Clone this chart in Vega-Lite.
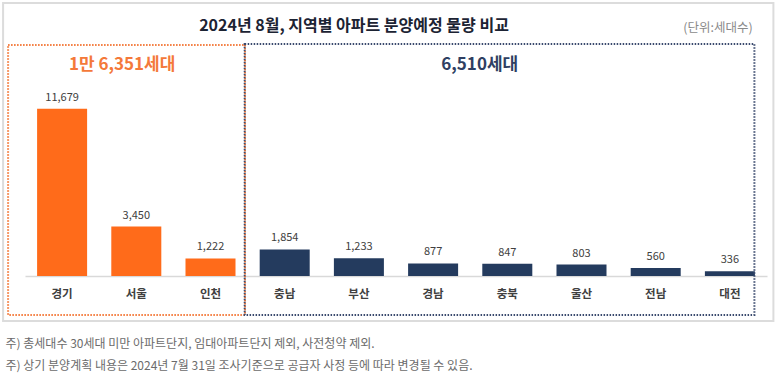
{
  "$schema": "https://vega.github.io/schema/vega-lite/v6.json",
  "autosize": {"type": "none"},
  "padding": {"left": 25, "top": 44, "right": 13, "bottom": 101},
  "width": 742,
  "height": 232,
  "background": "white",
  "config": {
    "view": {"stroke": null},
    "font": "Noto Sans CJK KR",
    "text": {"font": "Noto Sans CJK KR"}
  },
  "title": {
    "text": "2024년 8월, 지역별 아파트 분양예정 물량 비교",
    "anchor": "middle",
    "dx": -42,
    "dy": 32,
    "fontSize": 16,
    "fontWeight": "bold",
    "color": "#1c2333",
    "font": "Noto Sans CJK KR",
    "offset": 0
  },
  "datasets": {
    "regions": [
      {"region": "경기", "units": 11679, "group": "수도권"},
      {"region": "서울", "units": 3450, "group": "수도권"},
      {"region": "인천", "units": 1222, "group": "수도권"},
      {"region": "충남", "units": 1854, "group": "지방"},
      {"region": "부산", "units": 1233, "group": "지방"},
      {"region": "경남", "units": 877, "group": "지방"},
      {"region": "충북", "units": 847, "group": "지방"},
      {"region": "울산", "units": 803, "group": "지방"},
      {"region": "전남", "units": 560, "group": "지방"},
      {"region": "대전", "units": 336, "group": "지방"}
    ],
    "groups": [
      {"group": "수도권", "first": "경기", "last": "인천", "total": "1만 6,351세대"},
      {"group": "지방", "first": "충남", "last": "대전", "total": "6,510세대"}
    ],
    "frame": [
      {"first": "경기", "last": "대전", "unit": "(단위:세대수)"}
    ]
  },
  "layer": [
    {
      "data": {"name": "regions"},
      "mark": {"type": "bar"},
      "encoding": {
        "x": {
          "field": "region",
          "type": "nominal",
          "sort": null,
          "scale": {
            "domain": ["경기", "서울", "인천", "충남", "부산", "경남", "충북", "울산", "전남", "대전"],
            "paddingInner": 0.326,
            "paddingOuter": 0.163
          },
          "axis": {
            "title": [
              "주) 총세대수 30세대 미만 아파트단지, 임대아파트단지 제외, 사전청약 제외.",
              "주) 상기 분양계획 내용은 2024년 7월 31일 조사기준으로 공급자 사정 등에 따라 변경될 수 있음."
            ],
            "titleAnchor": "start",
            "titleAlign": "left",
            "titleBaseline": "middle",
            "titleX": -20,
            "titleY": 67,
            "titleFontSize": 12,
            "titleFontWeight": "normal",
            "titleColor": "#6b6b6b",
            "titleLineHeight": 22,
            "titleFont": "Noto Sans CJK KR",
            "labelAngle": 0,
            "labelFontSize": 11.5,
            "labelFontWeight": "bold",
            "labelColor": "#404040",
            "labelPadding": 12,
            "labelFont": "Noto Sans CJK KR",
            "ticks": false,
            "domainColor": "#d9d9d9",
            "domainWidth": 1.5
          }
        },
        "y": {
          "field": "units",
          "type": "quantitative",
          "scale": {"domain": [0, 16200]},
          "axis": null
        },
        "color": {
          "field": "group",
          "type": "nominal",
          "scale": {"domain": ["수도권", "지방"], "range": ["#FF6B1A", "#243B5E"]},
          "legend": null
        }
      }
    },
    {
      "data": {"name": "regions"},
      "mark": {"type": "text", "fontSize": 11, "color": "#404040", "baseline": "bottom", "dy": -6},
      "encoding": {
        "x": {"field": "region", "type": "nominal", "sort": null},
        "y": {"field": "units", "type": "quantitative", "scale": {"domain": [0, 16200]}},
        "text": {"field": "units", "type": "quantitative", "format": ","}
      }
    },
    {
      "data": {"name": "frame"},
      "mark": {"type": "rect", "fill": null, "stroke": "#dcdcdc", "strokeWidth": 2},
      "encoding": {
        "x": {"field": "first", "type": "nominal", "sort": null, "bandPosition": -0.68},
        "x2": {"field": "last", "bandPosition": 1.37},
        "y": {"datum": 19060, "type": "quantitative", "scale": {"domain": [0, 16200]}},
        "y2": {"datum": -3140}
      }
    },
    {
      "data": {"name": "groups"},
      "transform": [{"filter": "datum.group === '수도권'"}],
      "mark": {"type": "rect", "fill": null, "stroke": "#F4793A", "strokeWidth": 2, "strokeDash": [1.5, 1.5]},
      "encoding": {
        "x": {"field": "first", "type": "nominal", "sort": null, "bandPosition": -0.58},
        "x2": {"field": "last", "bandPosition": 1.19},
        "y": {"datum": 16130, "type": "quantitative", "scale": {"domain": [0, 16200]}},
        "y2": {"datum": -2720}
      }
    },
    {
      "data": {"name": "groups"},
      "transform": [{"filter": "datum.group === '지방'"}],
      "mark": {"type": "rect", "fill": null, "stroke": "#3A4A6E", "strokeWidth": 2, "strokeDash": [1.5, 1.5]},
      "encoding": {
        "x": {"field": "first", "type": "nominal", "sort": null, "bandPosition": -0.3},
        "x2": {"field": "last", "bandPosition": 0.99},
        "y": {"datum": 16200, "type": "quantitative", "scale": {"domain": [0, 16200]}},
        "y2": {"datum": -2720}
      }
    },
    {
      "data": {"name": "groups"},
      "transform": [{"filter": "datum.group === '수도권'"}],
      "mark": {"type": "text", "fontSize": 17, "fontWeight": "bold", "color": "#F4793A", "baseline": "middle", "align": "center"},
      "encoding": {
        "x": {"field": "first", "type": "nominal", "sort": null, "bandPosition": 1.7},
        "y": {"datum": 14700, "type": "quantitative", "scale": {"domain": [0, 16200]}},
        "text": {"field": "total"}
      }
    },
    {
      "data": {"name": "groups"},
      "transform": [{"filter": "datum.group === '지방'"}],
      "mark": {"type": "text", "fontSize": 17, "fontWeight": "bold", "color": "#2F3F62", "baseline": "middle", "align": "center"},
      "encoding": {
        "x": {"field": "first", "type": "nominal", "sort": null, "bandPosition": 4.4},
        "y": {"datum": 14700, "type": "quantitative", "scale": {"domain": [0, 16200]}},
        "text": {"field": "total"}
      }
    },
    {
      "data": {"name": "frame"},
      "mark": {"type": "text", "fontSize": 12.5, "color": "#8a8a8a", "baseline": "middle", "align": "center", "dx": -12},
      "encoding": {
        "x": {"field": "last", "type": "nominal", "sort": null, "bandPosition": 0.5},
        "y": {"datum": 17320, "type": "quantitative", "scale": {"domain": [0, 16200]}},
        "text": {"field": "unit"}
      }
    }
  ]
}
